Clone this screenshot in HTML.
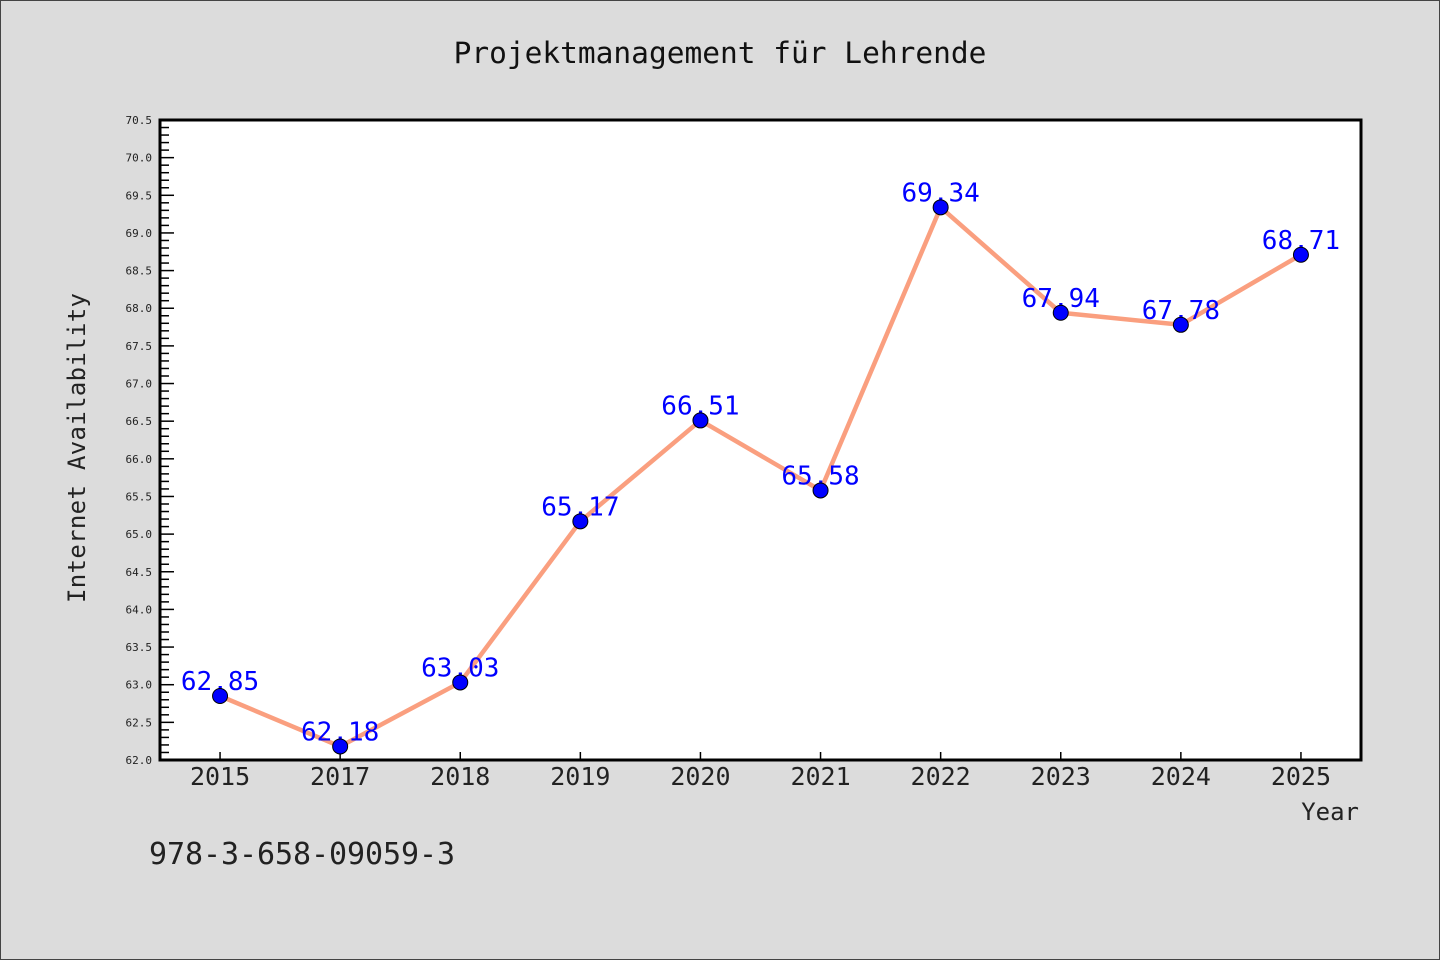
<!DOCTYPE html>
<html><head><meta charset="utf-8"><style>
body{margin:0;background:#dcdcdc;}
svg{display:block;font-family:"WenQuanYi Zen Hei Mono","WenQuanYi Zen Hei","DejaVu Sans Mono","Liberation Mono",monospace;}
</style></head><body>
<svg id="chart" width="1440" height="960" xmlns="http://www.w3.org/2000/svg">
<rect x="0.5" y="0.5" width="1439" height="959" fill="#dcdcdc" stroke="#444"/>
<text x="720" y="63" text-anchor="middle" font-size="29.5" fill="#111">Projektmanagement für Lehrende</text>
<rect x="160" y="120" width="1201" height="640" fill="#fff"/>
<g id="ticks"></g>
<g id="series"></g>
<rect x="160" y="120" width="1201" height="640" fill="none" stroke="#000" stroke-width="3"/>
<text transform="translate(85,448) rotate(-90)" text-anchor="middle" font-size="24" fill="#222" textLength="310">Internet Availability</text>
<text x="1359" y="820" text-anchor="end" font-size="24" fill="#222">Year</text>
<text x="149" y="864" font-size="30" fill="#222" textLength="306">978-3-658-09059-3</text>
</svg>
<script>
const categories=["2015","2017","2018","2019","2020","2021","2022","2023","2024","2025"];
const values=[62.85,62.18,63.03,65.17,66.51,65.58,69.34,67.94,67.78,68.71];
const valueLabels=["62,85","62,18","63,03","65,17","66,51","65,58","69,34","67,94","67,78","68,71"];
const yMin=62.0,yMax=70.5;
const NS="http://www.w3.org/2000/svg";
const L=160,R=1361,T=120,B=760;
const step=(R-L)/categories.length;
function xs(i){return L+step*(i+0.5);}
function ys(v){return B-(v-yMin)/(yMax-yMin)*(B-T);}
function mk(t,a,p){const e=document.createElementNS(NS,t);for(const k in a)e.setAttribute(k,a[k]);p.appendChild(e);return e;}
const tg=document.getElementById('ticks');
for(let k=0;k<=Math.round((yMax-yMin)*10);k++){
  const v=yMin+k*0.1,y=ys(v),major=k%5===0;
  const t=mk('line',{x1:L,x2:L+(major?14:9),y1:y,y2:y,stroke:'#000','stroke-width':1.5},tg);
  
  
  if(major){
    const tx=mk('text',{x:152,y:y+4,'text-anchor':'end','font-size':11,fill:'#222'},tg);
    
    
    tx.textContent=v.toFixed(1);
  }
}
categories.forEach((c,i)=>{
  const x=xs(i);
  const t=mk('line',{x1:x,x2:x,y1:B,y2:B-8,stroke:'#000','stroke-width':1.5},tg);
  
  
  const tx=mk('text',{x:x,y:785,'text-anchor':'middle','font-size':25,fill:'#222'},tg);
  
  
  tx.textContent=c;
});
const sg=document.getElementById('series');
const line=mk('polyline',{points:values.map((v,i)=>xs(i)+','+ys(v)).join(' '),fill:'none',stroke:'#fa9f7f','stroke-width':4.5,'stroke-linejoin':'round'},sg);


values.forEach((v,i)=>{
  const tx=mk('text',{x:xs(i),y:ys(v)-6,'text-anchor':'middle','font-size':26,fill:'#0000ff'},sg);
  
  
  tx.textContent=valueLabels[i];
});
values.forEach((v,i)=>{
  const c=mk('circle',{cx:xs(i),cy:ys(v),r:7.5,fill:'#0000ff',stroke:'#000','stroke-width':1},sg);
  
  
});
</script>
</body></html>
